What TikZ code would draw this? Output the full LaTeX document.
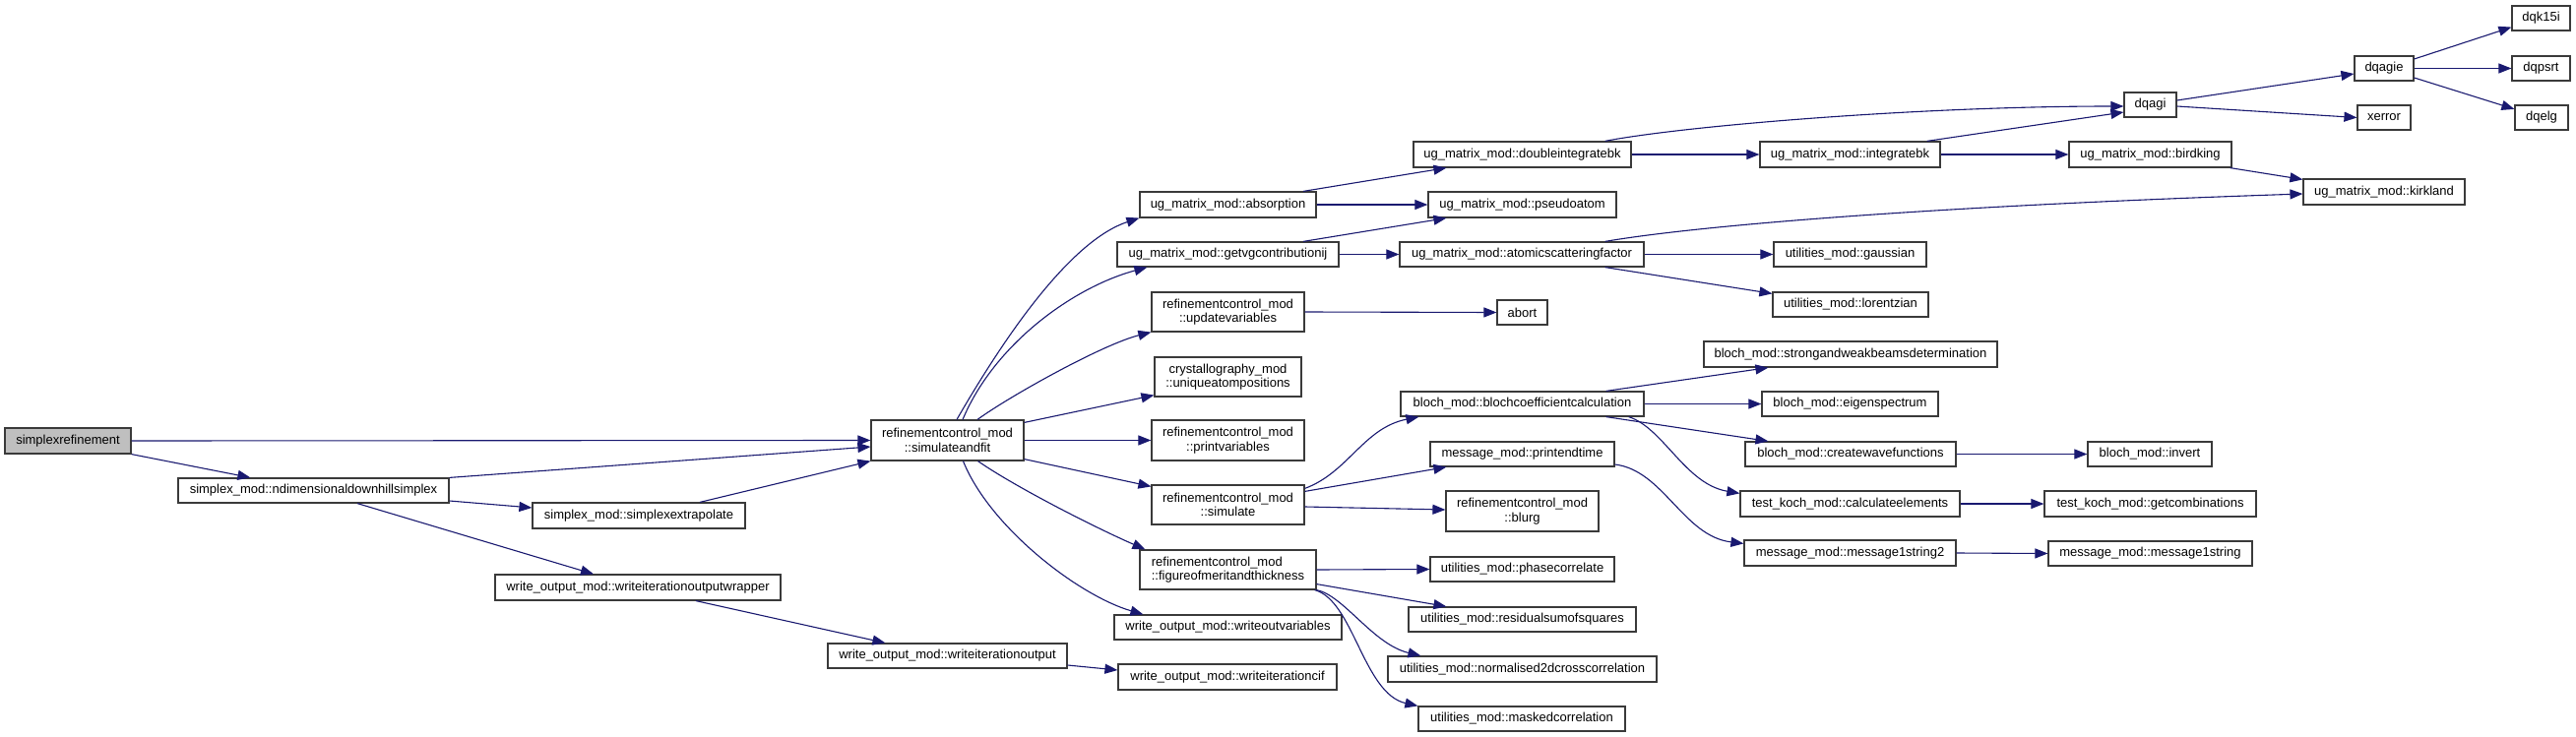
\documentclass[tikz,border=0pt]{standalone}
\usepackage{fontspec}
\setmainfont{Liberation Sans}
\usetikzlibrary{arrows.meta}
\definecolor{edgeblue}{HTML}{191970}
\definecolor{boxline}{HTML}{3A3A3A}
\definecolor{rootfill}{HTML}{BFBFBF}
\tikzset{
  fn/.style={draw=boxline, line width=1.2pt, fill=white, rectangle, inner sep=0pt,
    font=\fontsize{13}{14.5}\selectfont, align=center},
  rootnode/.style={fn, fill=rootfill},
  edge/.style={draw=edgeblue, line width=1.1pt, -{Triangle[length=13pt,width=10pt]}}
}
\begin{document}
\begin{tikzpicture}[x=1pt,y=-1pt]
\path[fill=white] (0,0) rectangle (2617,749);
\useasboundingbox (0,0) rectangle (2617,749);
% column 1-3
\node[rootnode, minimum width=128pt, minimum height=26pt] (root) at (69,448) {simplexrefinement};
\node[fn, minimum width=275pt, minimum height=25pt] (ndim) at (318.5,498.5) {simplex\_mod::ndimensionaldownhillsimplex};
\node[fn, minimum width=216pt, minimum height=26pt] (extrap) at (649,524) {simplex\_mod::simplexextrapolate};
\node[fn, minimum width=290pt, minimum height=26pt] (wrap) at (648,597) {write\_output\_mod::writeiterationoutputwrapper};
\node[fn, minimum width=243pt, minimum height=25pt] (itout) at (962.5,666.5) {write\_output\_mod::writeiterationoutput};
\node[fn, minimum width=155pt, minimum height=41pt] (saf) at (962.5,447.5) {refinementcontrol\_mod\\::simulateandfit};
% column 5
\node[fn, minimum width=179pt, minimum height=26pt] (absn) at (1247.5,208) {ug\_matrix\_mod::absorption};
\node[fn, minimum width=225pt, minimum height=25pt] (getvg) at (1247.5,258.5) {ug\_matrix\_mod::getvgcontributionij};
\node[fn, minimum width=155pt, minimum height=40pt] (updv) at (1247.5,317) {refinementcontrol\_mod\\::updatevariables};
\node[fn, minimum width=149pt, minimum height=40pt] (uniq) at (1247.5,383) {crystallography\_mod\\::uniqueatompositions};
\node[fn, minimum width=155pt, minimum height=41pt] (printv) at (1247.5,447.5) {refinementcontrol\_mod\\::printvariables};
\node[fn, minimum width=155pt, minimum height=40pt] (simu) at (1247.5,513) {refinementcontrol\_mod\\::simulate};
\node[fn, minimum width=179pt, minimum height=40pt, align=left] (fom) at (1247.5,579) {refinementcontrol\_mod\\::figureofmeritandthickness};
\node[fn, minimum width=231pt, minimum height=25pt] (wout) at (1247.5,637.5) {write\_output\_mod::writeoutvariables};
\node[fn, minimum width=222pt, minimum height=26pt] (cif) at (1247,688) {write\_output\_mod::writeiterationcif};
% column 6
\node[fn, minimum width=221pt, minimum height=26pt] (dib) at (1546.5,157) {ug\_matrix\_mod::doubleintegratebk};
\node[fn, minimum width=191pt, minimum height=26pt] (pseudo) at (1546.5,208) {ug\_matrix\_mod::pseudoatom};
\node[fn, minimum width=248pt, minimum height=25pt] (asf) at (1546,258.5) {ug\_matrix\_mod::atomicscatteringfactor};
\node[fn, minimum width=51pt, minimum height=25pt] (abortn) at (1546.5,317.5) {abort};
\node[fn, minimum width=247pt, minimum height=25pt] (bcc) at (1546.5,410.5) {bloch\_mod::blochcoefficientcalculation};
\node[fn, minimum width=187pt, minimum height=25pt] (pet) at (1546.5,461.5) {message\_mod::printendtime};
\node[fn, minimum width=155pt, minimum height=41pt] (blurg) at (1546.5,519.5) {refinementcontrol\_mod\\::blurg};
\node[fn, minimum width=187pt, minimum height=25pt] (phase) at (1546.5,578.5) {utilities\_mod::phasecorrelate};
\node[fn, minimum width=231pt, minimum height=25pt] (rss) at (1546.5,629.5) {utilities\_mod::residualsumofsquares};
\node[fn, minimum width=273pt, minimum height=26pt] (ntwod) at (1546.5,680) {utilities\_mod::normalised2dcrosscorrelation};
\node[fn, minimum width=210pt, minimum height=25pt] (masked) at (1546,730.5) {utilities\_mod::maskedcorrelation};
% column 7
\node[fn, minimum width=183pt, minimum height=26pt] (integ) at (1879.5,157) {ug\_matrix\_mod::integratebk};
\node[fn, minimum width=155pt, minimum height=25pt] (gauss) at (1879.5,258.5) {utilities\_mod::gaussian};
\node[fn, minimum width=158pt, minimum height=25pt] (lorentz) at (1880,309.5) {utilities\_mod::lorentzian};
\node[fn, minimum width=298pt, minimum height=26pt] (swbd) at (1880,360) {bloch\_mod::strongandweakbeamsdetermination};
\node[fn, minimum width=179pt, minimum height=25pt] (eigen) at (1879.5,410.5) {bloch\_mod::eigenspectrum};
\node[fn, minimum width=214pt, minimum height=25pt] (cwf) at (1880,461.5) {bloch\_mod::createwavefunctions};
\node[fn, minimum width=223pt, minimum height=26pt] (calc) at (1879.5,512) {test\_koch\_mod::calculateelements};
\node[fn, minimum width=215pt, minimum height=26pt] (mstwo) at (1879.5,562) {message\_mod::message1string2};
% column 8
\node[fn, minimum width=53pt, minimum height=25pt] (dqagi) at (2184.5,106.5) {dqagi};
\node[fn, minimum width=165pt, minimum height=26pt] (birdking) at (2184.5,157) {ug\_matrix\_mod::birdking};
\node[fn, minimum width=126pt, minimum height=25pt] (invert) at (2184,461.5) {bloch\_mod::invert};
\node[fn, minimum width=215pt, minimum height=26pt] (getcomb) at (2184.5,512) {test\_koch\_mod::getcombinations};
\node[fn, minimum width=207pt, minimum height=25pt] (mone) at (2184.5,562.5) {message\_mod::message1string};
% column 9-10
\node[fn, minimum width=60pt, minimum height=25pt] (dqagie) at (2422,69.5) {dqagie};
\node[fn, minimum width=54pt, minimum height=25pt] (xerror) at (2422,119.5) {xerror};
\node[fn, minimum width=164pt, minimum height=26pt] (kirkland) at (2422,195) {ug\_matrix\_mod::kirkland};
\node[fn, minimum width=59pt, minimum height=25pt] (dqk) at (2581.5,18.5) {dqk15i};
\node[fn, minimum width=59pt, minimum height=25pt] (dqpsrt) at (2581.5,69.5) {dqpsrt};
\node[fn, minimum width=54pt, minimum height=25pt] (dqelg) at (2582,119.5) {dqelg};
% edges
\draw[edge] (root.east) -- (saf.west);
\draw[edge] (root.south east) -- ([xshift=74pt]ndim.north west);
\draw[edge] (ndim.north east) -- ([yshift=-6.5pt]saf.west);
\draw[edge] ([yshift=-10.5pt]ndim.east) -- ([yshift=8pt]extrap.west);
\draw[edge] ([xshift=62pt]extrap.north) -- (saf.south west);
\draw[edge] ([xshift=44.5pt]ndim.south) -- ([xshift=-45pt]wrap.north);
\draw[edge] ([xshift=59pt]wrap.south) -- ([xshift=59pt]itout.north west);
\draw[edge] ([yshift=-9.5pt]itout.east) -- ([yshift=7pt]cif.west);
\draw[edge] ([xshift=9.5pt]saf.north) .. controls (1012,357) and (1083,246) .. (absn.south west);
\draw[edge] ([xshift=15.5pt]saf.north) .. controls (1010,350) and (1090,292) .. ([xshift=31pt]getvg.south west);
\draw[edge] ([xshift=30.5pt]saf.north) .. controls (1025,403) and (1120,350) .. (updv.south west);
\draw[edge] ([yshift=-3pt]saf.north east) -- ([yshift=2pt]uniq.south west);
\draw[edge] (saf.east) -- (printv.west);
\draw[edge] ([yshift=2pt]saf.south east) -- ([yshift=-2pt]simu.north west);
\draw[edge] ([xshift=31pt]saf.south) .. controls (1030,494) and (1110,535) .. ([xshift=6pt]fom.north west);
\draw[edge] ([xshift=16pt]saf.south) .. controls (1005,535) and (1095,605) .. ([xshift=30pt]wout.north west);
\draw[edge] ([xshift=76.5pt]absn.north) -- ([xshift=34pt]dib.south west);
\draw[edge] (absn.east) -- (pseudo.west);
\draw[edge] ([xshift=76.5pt]getvg.north) -- ([xshift=19pt]pseudo.south west);
\draw[edge] (getvg.east) -- (asf.west);
\draw[edge] (dib.east) -- (integ.west);
\draw[edge] ([xshift=-27pt]dib.north east) .. controls (1710,128) and (1950,108) .. ([yshift=-1.5pt]dqagi.west);
\draw[edge] ([xshift=-14pt]integ.north east) -- ([yshift=-7.5pt]dqagi.west);
\draw[edge] (integ.east) -- (birdking.west);
\draw[edge] ([yshift=4.5pt]dqagi.east) -- ([yshift=-5.5pt]dqagie.west);
\draw[edge] ([yshift=-1.5pt]dqagi.east) -- (xerror.west);
\draw[edge] ([yshift=9.5pt]dqagie.east) -- ([yshift=4pt]dqk.south west);
\draw[edge] (dqagie.east) -- (dqpsrt.west);
\draw[edge] ([yshift=-9.5pt]dqagie.east) -- ([yshift=-4.5pt]dqelg.north west);
\draw[edge] ([xshift=-2pt]birdking.south east) -- ([yshift=-1pt]kirkland.north west);
\draw[edge] ([xshift=-40pt]asf.north east) .. controls (1720,230) and (1950,210) .. ([yshift=-2pt]kirkland.west);
\draw[edge] (asf.east) -- (gauss.west);
\draw[edge] ([xshift=-40pt]asf.south east) -- ([yshift=-2pt]lorentz.north west);
\draw[edge] (updv.east) -- (abortn.west);
\draw[edge] ([yshift=-4pt]simu.north east) .. controls (1370,480) and (1385,435) .. ([xshift=19pt]bcc.south west);
\draw[edge] ([yshift=-7pt]simu.north east) -- ([xshift=17pt]pet.south west);
\draw[edge] ([yshift=-2pt]simu.east) -- ([yshift=1.5pt]blurg.west);
\draw[edge] ([xshift=-39pt]bcc.north east) -- ([xshift=66pt]swbd.south west);
\draw[edge] (bcc.east) -- (eigen.west);
\draw[edge] ([xshift=-39pt]bcc.south east) -- ([xshift=24pt]cwf.north west);
\draw[edge] ([xshift=-16pt]bcc.south east) .. controls (1690,435) and (1712,492) .. ([yshift=-3pt]calc.north west);
\draw[edge] (cwf.east) -- (invert.west);
\draw[edge] (calc.east) -- (getcomb.west);
\draw[edge] ([yshift=-10.5pt]pet.east) .. controls (1690,478) and (1710,545) .. ([yshift=-4pt]mstwo.north west);
\draw[edge] (mstwo.east) -- (mone.west);
\draw[edge] (fom.east) -- (phase.west);
\draw[edge] ([yshift=6pt]fom.south east) -- ([xshift=39pt]rss.north west);
\draw[edge] (fom.south east) .. controls (1365,605) and (1395,655) .. ([xshift=34pt]ntwod.north west);
\draw[edge] ([xshift=-2pt]fom.south east) .. controls (1375,610) and (1385,705) .. (masked.north west);
\end{tikzpicture}
\end{document}
